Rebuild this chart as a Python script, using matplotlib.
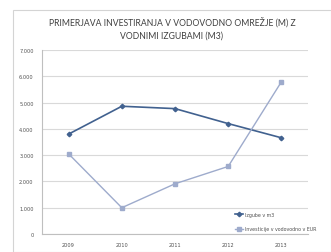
import matplotlib
matplotlib.use("Agg")
import matplotlib.pyplot as plt
from matplotlib.patches import Rectangle

years = ["2009", "2010", "2011", "2012", "2013"]
izgube = [3800, 4860, 4770, 4200, 3660]
investicije = [3050, 1000, 1910, 2570, 5790]
yticks = [0, 1000, 2000, 3000, 4000, 5000, 6000, 7000]
ytick_labels = ["0", "1.000", "2.000", "3.000", "4.000", "5.000", "6.000", "7.000"]
title = "PRIMERJAVA INVESTIRANJA V VODOVODNO OMREŽJE (M) Z\nVODNIMI IZGUBAMI (M3)"
labels = ["Izgube v m3", "Investicije v vodovodno v EUR"]

W, H = 331, 253
fig = plt.figure(figsize=(W / 100, H / 100), dpi=100)
fig.patch.set_facecolor("white")

# outer chart border
fig.patches.append(Rectangle((13 / W, 0), (W - 13) / W, (H - 11) / H,
                             transform=fig.transFigure, fill=False,
                             edgecolor="#d4d4d4", linewidth=0.8))

ax = fig.add_axes([42 / W, 1 - 235 / H, (308 - 42) / W, (235 - 51) / H])
x = list(range(len(years)))
ax.plot(x, izgube, color="#41618f", linewidth=1.2, marker="D", markersize=2.3,
        label=labels[0])
ax.plot(x, investicije, color="#9eabcc", linewidth=1.0, marker="s", markersize=2.8,
        label=labels[1])

ax.set_xlim(-0.5, len(years) - 0.5)
ax.set_ylim(0, 7000)
ax.set_yticks(yticks)
ax.set_yticklabels(ytick_labels)
ax.set_xticks(x)
ax.set_xticklabels(years)
ax.yaxis.grid(True, color="#d9d9d9", linewidth=0.8)
ax.set_axisbelow(True)
for s in ["top", "right"]:
    ax.spines[s].set_visible(False)
for s in ["left", "bottom"]:
    ax.spines[s].set_color("#bfbfbf")
    ax.spines[s].set_linewidth(0.8)
ax.tick_params(axis="both", length=0, labelsize=3.6, colors="#505050", pad=6)
ax.tick_params(axis="x", pad=6)

fig.text(172 / W, 1 - 29 / H, title, ha="center", va="center",
         fontsize=6.2, color="#404040", family="Lato", linespacing=1.6)

leg = fig.legend(loc="center left", bbox_to_anchor=(234 / W, 1 - 222.5 / H),
                 fontsize=3.4, frameon=True, framealpha=1, edgecolor="none",
                 facecolor="white", handlelength=1.8, handletextpad=0.4,
                 labelspacing=2.0, borderpad=0.2, borderaxespad=0)
for t in leg.get_texts():
    t.set_color("#505050")

fig.savefig("out.png", dpi=100)
